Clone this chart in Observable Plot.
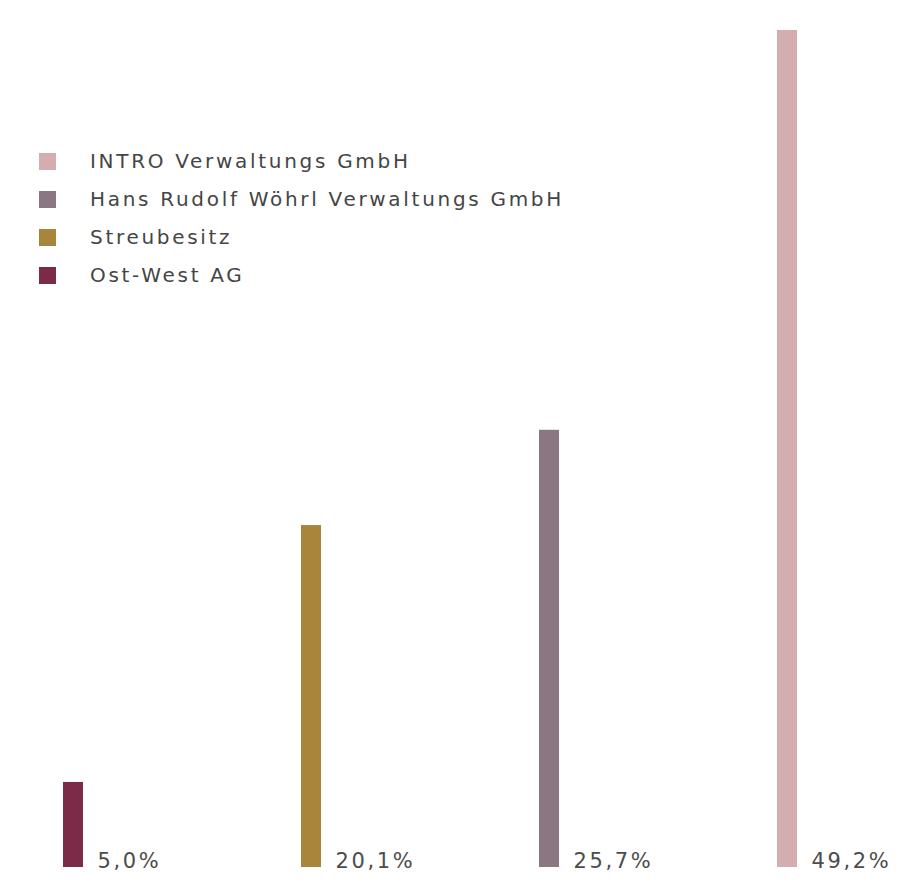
<!DOCTYPE html>
<html>
<head>
<meta charset="utf-8">
<script src="https://cdn.jsdelivr.net/npm/d3@7"></script>
<script src="https://cdn.jsdelivr.net/npm/@observablehq/plot@0.6"></script>
<style>
  body { margin: 0; background: #fff; }
  #wrap { position: relative; width: 905px; height: 891px; overflow: hidden; }
  #legend { position: absolute; left: 39px; top: 142px; font-family: "DejaVu Sans", sans-serif; font-size: 20px; color: #454545; letter-spacing: 2.7px; }
  .row { display: flex; align-items: center; height: 38px; white-space: nowrap; }
  .sw { width: 17px; height: 17px; margin-right: 34px; flex: none; }
</style>
</head>
<body>
<div id="wrap"><div id="legend"></div></div>
<script>
const categories = ["Ost-West AG", "Streubesitz", "Hans Rudolf Wöhrl Verwaltungs GmbH", "INTRO Verwaltungs GmbH"];
const shares = [5.0, 20.1, 25.7, 49.2];
const valueLabels = ["5,0%", "20,1%", "25,7%", "49,2%"];
const colors = ["#7b2b47", "#a9843b", "#8a7782", "#d4adae"];
const legendOrder = ["INTRO Verwaltungs GmbH", "Hans Rudolf Wöhrl Verwaltungs GmbH", "Streubesitz", "Ost-West AG"];

const data = categories.map((c, i) => ({category: c, share: shares[i], label: valueLabels[i]}));

const chart = Plot.plot({
  width: 905,
  height: 891,
  marginLeft: 63,
  marginRight: 107,
  marginTop: 30,
  marginBottom: 24,
  style: {fontFamily: "DejaVu Sans, sans-serif", letterSpacing: "2.6px", background: "#fff"},
  x: {domain: categories, axis: null, paddingInner: 0.914, paddingOuter: 0},
  y: {domain: [0, 49.2], axis: null},
  color: {domain: categories, range: colors},
  marks: [
    Plot.barY(data, {x: "category", y: "share", fill: "category"}),
    Plot.text(data, {x: "category", y: 0, text: "label", dx: 24, dy: 0, textAnchor: "start", lineAnchor: "bottom", fontSize: 21, fill: "#4c4c4c"})
  ]
});
document.getElementById("wrap").prepend(chart);

const color = chart.scale("color");
const legend = d3.select("#legend");
legendOrder.forEach(name => {
  const row = legend.append("div").attr("class", "row");
  row.append("div").attr("class", "sw").style("background", colors[color.domain.indexOf(name)]);
  row.append("span").text(name);
});
</script>
</body>
</html>
